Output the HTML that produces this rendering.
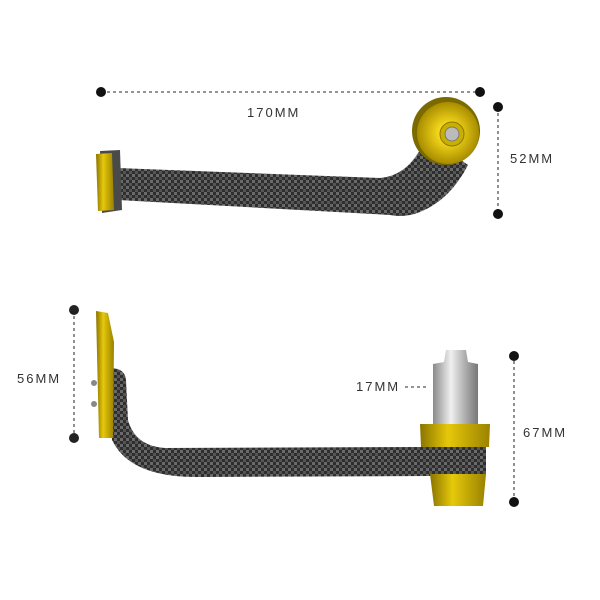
<!DOCTYPE html>
<html><head><style>
html,body{margin:0;padding:0;background:#fff;}
svg{display:block}
text{font-family:"Liberation Sans",sans-serif;font-size:13px;fill:#333;letter-spacing:2px}
</style></head><body>
<svg width="600" height="600" viewBox="0 0 600 600">
<defs>
<pattern id="cf" width="6" height="6" patternUnits="userSpaceOnUse">
<rect width="6" height="6" fill="#2e2e2e"/>
<rect width="3" height="3" fill="#6a6a6a"/>
<rect x="3" y="3" width="3" height="3" fill="#555"/>
</pattern>
<linearGradient id="gold" x1="0" x2="1">
<stop offset="0" stop-color="#8a7400"/><stop offset=".4" stop-color="#e6c80a"/><stop offset="1" stop-color="#9a8200"/>
</linearGradient>
<linearGradient id="silver" x1="0" x2="1">
<stop offset="0" stop-color="#8a8a8a"/><stop offset=".4" stop-color="#f0f0f0"/><stop offset=".7" stop-color="#b0b0b0"/><stop offset="1" stop-color="#777"/>
</linearGradient>
<radialGradient id="disk"><stop offset=".3" stop-color="#f5d81a"/><stop offset="1" stop-color="#a88c00"/></radialGradient>
</defs>

<!-- top dimensions -->
<line x1="101" y1="92" x2="480" y2="92" stroke="#555" stroke-width="1.3" stroke-dasharray="3,3"/>
<circle cx="101" cy="92" r="5" fill="#111"/><circle cx="480" cy="92" r="5" fill="#111"/>
<text x="247" y="117">170MM</text>
<line x1="498" y1="107" x2="498" y2="214" stroke="#555" stroke-width="1.3" stroke-dasharray="3,3"/>
<circle cx="498" cy="107" r="5" fill="#111"/><circle cx="498" cy="214" r="5" fill="#111"/>
<text x="510" y="163">52MM</text>

<!-- top arm -->
<path d="M118 168 L380 178 Q405 176 420 150 L440 145 L468 165 Q450 200 420 212 Q405 218 390 215 L118 200 Z" fill="url(#cf)"/>
<path d="M100 151 L120 150 L122 210 L102 213 Z" fill="#4a4a4a"/>
<path d="M96 154 L112 153 L114 210 L98 211 Z" fill="url(#gold)"/>
<circle cx="446" cy="131" r="34" fill="#7a6a00"/>
<circle cx="448" cy="133" r="31" fill="url(#disk)"/>
<circle cx="452" cy="134" r="12" fill="#c9b000" stroke="#8a7800"/>
<circle cx="452" cy="134" r="7" fill="#bbb" stroke="#777"/>

<!-- bottom dimensions -->
<line x1="74" y1="310" x2="74" y2="438" stroke="#555" stroke-width="1.3" stroke-dasharray="3,3"/>
<circle cx="74" cy="310" r="5" fill="#222"/><circle cx="74" cy="438" r="5" fill="#222"/>
<text x="17" y="383">56MM</text>
<line x1="514" y1="355" x2="514" y2="502" stroke="#555" stroke-width="1.3" stroke-dasharray="3,3"/>
<circle cx="514" cy="356" r="5" fill="#111"/><circle cx="514" cy="502" r="5" fill="#111"/>
<text x="523" y="437">67MM</text>
<text x="356" y="391">17MM</text>
<line x1="405" y1="387" x2="429" y2="387" stroke="#555" stroke-width="1.3" stroke-dasharray="3,3"/>

<!-- bottom arm -->
<path d="M110 368 Q125 368 126 380 L128 420 Q135 446 165 448 L430 447 L440 470 L430 476 L200 477 Q130 478 112 440 Z" fill="url(#cf)"/>
<path d="M96 311 L108 313 L114 342 L113 438 L99 438 Z" fill="url(#gold)"/>
<circle cx="94" cy="383" r="3" fill="#888"/><circle cx="94" cy="404" r="3" fill="#888"/>
<!-- silver cylinder -->
<path d="M446 350 L466 350 L468 362 L478 364 L478 425 L433 425 L433 364 L444 362 Z" fill="url(#silver)"/>
<path d="M420 424 L490 424 L489 447 L421 447 Z" fill="url(#gold)"/>
<rect x="422" y="447" width="64" height="27" fill="url(#cf)"/>
<path d="M430 474 L486 474 L483 506 L434 506 Z" fill="url(#gold)"/>
</svg>
</body></html>
